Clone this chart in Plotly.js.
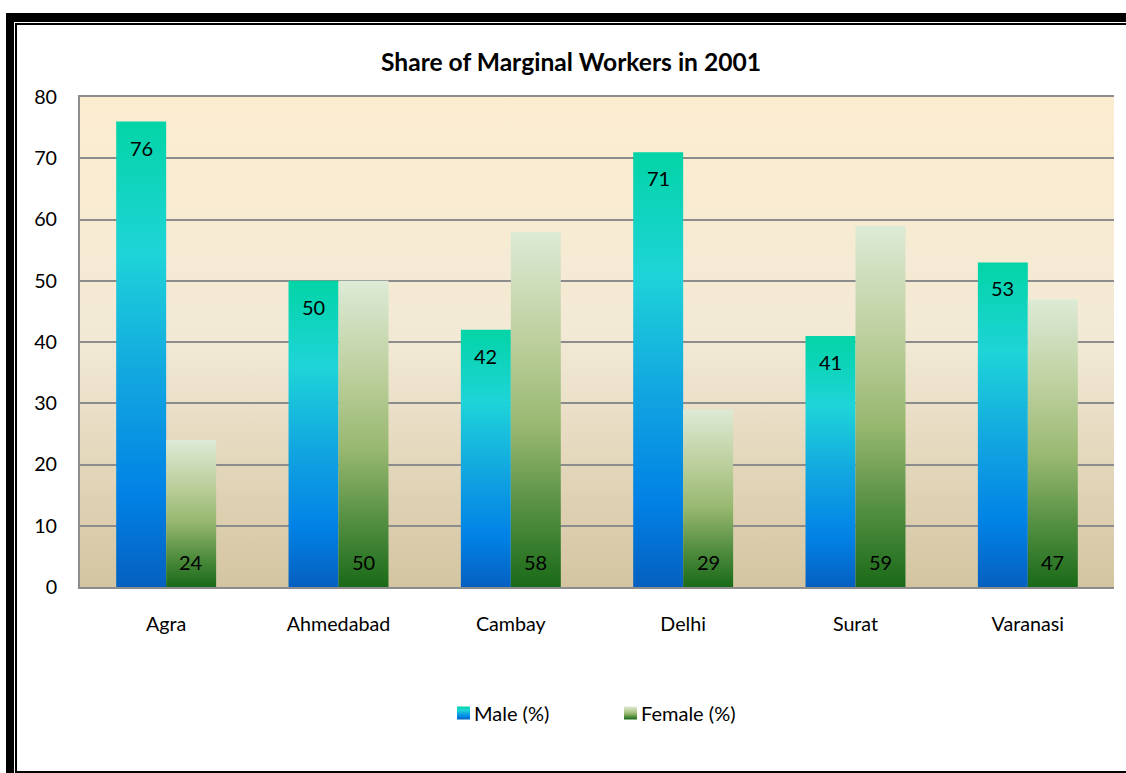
<!DOCTYPE html>
<html>
<head>
<meta charset="utf-8">
<script src="https://cdn.plot.ly/plotly-3.0.1.min.js"></script>
<style>
  html, body { margin:0; padding:0; width:1126px; height:773px; overflow:hidden; background:#fff; }
  #chart { position:absolute; left:0; top:0; width:1126px; height:773px; }
  .fr { position:absolute; background:#000; pointer-events:none; z-index:10; }
</style>
</head>
<body>
<div id="chart"></div>
<div class="fr" style="left:6px;top:13px;width:8px;height:760px;"></div>
<div class="fr" style="left:6px;top:13px;width:1120px;height:9px;"></div>
<div class="fr" style="left:15px;top:23px;width:2px;height:750px;"></div>
<div class="fr" style="left:15px;top:23px;width:1111px;height:2px;"></div>
<div class="fr" style="left:15px;top:771px;width:1111px;height:2px;"></div>
<script>
const categories = ["Agra", "Ahmedabad", "Cambay", "Delhi", "Surat", "Varanasi"];
const maleValues = [76, 50, 42, 71, 41, 53];
const femaleValues = [24, 50, 58, 29, 59, 47];
const seriesNames = ["Male (%)", "Female (%)"];
const chartTitle = "Share of Marginal Workers in 2001";

const FONT = "Lato, 'Open Sans', sans-serif";

const traces = [
  { type: "bar", name: seriesNames[0], x: categories, y: maleValues,
    marker: { color: "#12A8E0", line: { width: 0 } }, hoverinfo: "x+y" },
  { type: "bar", name: seriesNames[1], x: categories, y: femaleValues,
    marker: { color: "#98B870", line: { width: 0 } }, hoverinfo: "x+y" }
];

const annotations = [];
categories.forEach((c, i) => {
  annotations.push({ x: c, y: maleValues[i], xref: "x", yref: "y", text: String(maleValues[i]),
    showarrow: false, xshift: -25, yshift: -26, yanchor: "middle",
    font: { family: FONT, size: 20, color: "#000" } });
  annotations.push({ x: c, y: 0, xref: "x", yref: "y", text: String(femaleValues[i]),
    showarrow: false, xshift: 25, yshift: 25, yanchor: "middle",
    font: { family: FONT, size: 20, color: "#000" } });
});

const layout = {
  width: 1126, height: 773,
  margin: { l: 80, r: 12, t: 97, b: 186 },
  paper_bgcolor: "#ffffff",
  plot_bgcolor: "#F4EAD2",
  font: { family: FONT, size: 19.7, color: "#000" },
  title: { text: "<b>" + chartTitle + "</b>", x: 571 / 1126, xref: "container", xanchor: "center",
           y: 1 - 62 / 773, yref: "container", yanchor: "middle",
           font: { family: FONT, size: 24.6, color: "#000" } },
  barmode: "group", bargap: 0.42, bargroupgap: 0,
  xaxis: { type: "category", showgrid: false, showline: true, mirror: true, linecolor: "#8C8C8C", linewidth: 2,
           ticks: "", ticklabelstandoff: 18, tickfont: { family: FONT, size: 19.7, color: "#000" },
           zeroline: false, fixedrange: true },
  yaxis: { range: [0, 80], dtick: 10, tick0: 0, showgrid: true, gridcolor: "#8C8C8C", gridwidth: 2,
           showline: true, linecolor: "#8C8C8C", linewidth: 2, zeroline: false,
           ticks: "", ticklabelstandoff: 17, tickfont: { family: FONT, size: 19.7, color: "#000" },
           fixedrange: true },
  showlegend: true,
  legend: { orientation: "h", x: (434 - 80) / 1034, xanchor: "left", y: (587 - 713) / 490, yanchor: "middle",
            font: { family: FONT, size: 20, color: "#000" }, entrywidth: 122, entrywidthmode: "pixels",
            bgcolor: "rgba(0,0,0,0)", itemclick: false, itemdoubleclick: false },
  annotations: annotations
};

const NS = "http://www.w3.org/2000/svg";
function makeGrad(defs, id, stops) {
  if (document.getElementById(id)) return;
  const g = document.createElementNS(NS, "linearGradient");
  g.setAttribute("id", id);
  g.setAttribute("x1", "0"); g.setAttribute("y1", "0");
  g.setAttribute("x2", "0"); g.setAttribute("y2", "1");
  stops.forEach(s => {
    const st = document.createElementNS(NS, "stop");
    st.setAttribute("offset", s[0]);
    st.setAttribute("stop-color", s[1]);
    g.appendChild(st);
  });
  defs.appendChild(g);
}

function applyGradients() {
  const gd = document.getElementById("chart");
  const svg = gd.querySelector("svg.main-svg");
  let defs = svg.querySelector("defs");
  if (!defs) { defs = document.createElementNS(NS, "defs"); svg.insertBefore(defs, svg.firstChild); }
  makeGrad(defs, "gMale", [["0", "#03D4A6"], ["0.28", "#1ED4D8"], ["0.55", "#12A6E0"], ["0.8", "#0182E6"], ["1", "#0560C0"]]);
  makeGrad(defs, "gFemale", [["0", "#DDEAD6"], ["0.3", "#BDD09E"], ["0.55", "#98B870"], ["0.8", "#4F8C3E"], ["1", "#196A18"]]);
  makeGrad(defs, "gBg", [["0", "#FCEDD0"], ["0.5", "#F2E9D5"], ["1", "#D4C5A1"]]);
  const fills = ["url(#gMale)", "url(#gFemale)"];
  gd.querySelectorAll(".barlayer .trace").forEach((t, i) => {
    t.querySelectorAll(".point path").forEach(p => { p.style.fill = fills[i]; });
  });
  gd.querySelectorAll(".legend .traces").forEach((t, i) => {
    t.querySelectorAll(".legendpoints path").forEach(p => {
      p.style.fill = fills[i]; p.style.stroke = "none";
      p.setAttribute("d", "M6.5,6.5H-6.5V-6.5H6.5Z");
      p.setAttribute("transform", "translate(29.5,0)");
    });
  });
  gd.querySelectorAll(".bglayer rect.bg").forEach(r => { r.style.fill = "url(#gBg)"; });
}

Plotly.newPlot("chart", traces, layout, { staticPlot: true, displayModeBar: false }).then(gd => {
  applyGradients();
  gd.on("plotly_afterplot", applyGradients);
});
</script>
</body>
</html>
